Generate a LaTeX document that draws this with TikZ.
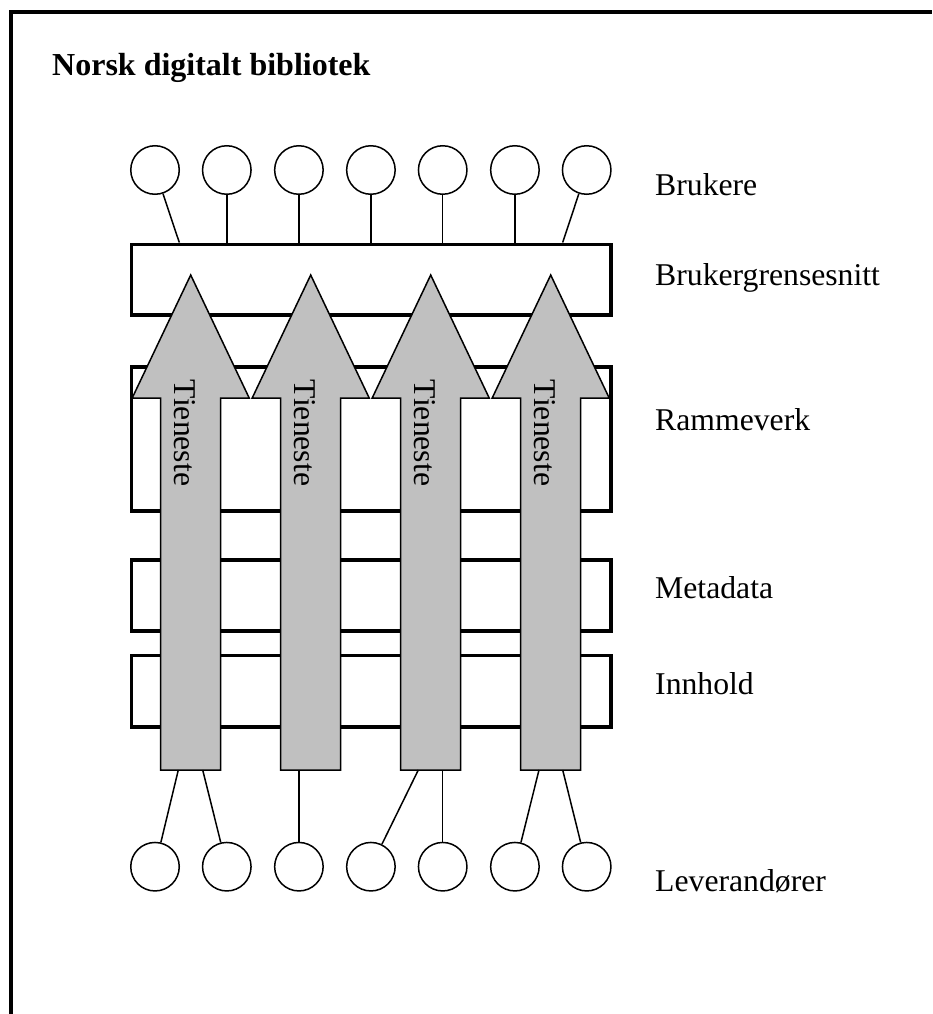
\documentclass[tikz,border=0pt]{standalone}
\usepackage{fontspec}
\setmainfont{Liberation Serif}
\definecolor{arrowgray}{HTML}{C0C0C0}
\begin{document}
\begin{tikzpicture}[x=1pt,y=-1pt,
  person/.style={circle,draw,line width=1.5pt,fill=white,minimum size=48.5pt,inner sep=0pt},
  layerbox/.style={rectangle,draw,line width=3.8pt,fill=white,minimum width=479.2pt,inner sep=0pt},
  svcarrow/.style={draw,line width=1.5pt,fill=arrowgray,line join=miter},
  link/.style={line width=1.5pt},
  lbl/.style={anchor=base west,inner sep=0pt,font=\fontsize{31.7}{38}\selectfont},
  svclbl/.style={rotate=-90,inner sep=0pt,font=\fontsize{31.7}{38}\selectfont},
  frame/.style={line width=4pt}]
\useasboundingbox (0,0) rectangle (932,1014);
% frame
\coordinate (f1) at (11,1014);
\coordinate (f2) at (11,12);
\coordinate (f3) at (932,12);
\draw[frame] (f1) -- (f2) -- (f3);
% title
\node[anchor=base west,inner sep=0pt,font=\fontsize{32}{38}\selectfont\bfseries] (title) at (52,76) {Norsk digitalt bibliotek};
% layer boxes
\node[layerbox,minimum height=70.5pt] (bg) at (371,279.7) {};
\node[layerbox,minimum height=144pt] (rv) at (371,439) {};
\node[layerbox,minimum height=71.3pt] (md) at (371,595.3) {};
\node[layerbox,minimum height=71.2pt] (ih) at (371,691.1) {};
% service arrows
\foreach \k in {0,1,2,3}{
  \pgfmathsetmacro{\cx}{190.7+120*\k}
  \draw[svcarrow] (\cx,275) -- (\cx+58.5,398) -- (\cx+30,398) -- (\cx+30,770)
     -- (\cx-30,770) -- (\cx-30,398) -- (\cx-58.5,398) -- cycle;
  \node[svclbl] (t\k) at (\cx-5.5,433) {Tieneste};
}
% users
\foreach \i/\x in {1/155,2/226.8,3/298.9,4/370.9,5/442.7,6/514.9,7/586.7}{
  \node[person] (u\i) at (\x,170) {};
  \node[person] (l\i) at (\x,866.7) {};
}
% connection points on box top
\coordinate (c1) at (179.3,242.5);
\coordinate (c2) at (226.8,242.5);
\coordinate (c3) at (298.9,242.5);
\coordinate (c4) at (370.9,242.5);
\coordinate (c5) at (442.7,242.5);
\coordinate (c6) at (514.9,242.5);
\coordinate (c7) at (562.7,242.5);
\foreach \i in {1,...,7}{ \draw[link] (u\i) -- (c\i); }
% connection points on shaft bottoms
\coordinate (s1) at (178.3,770);
\coordinate (s2) at (202.7,770);
\coordinate (s3) at (298.9,770);
\coordinate (s4) at (418.3,770);
\coordinate (s5) at (442.7,770);
\coordinate (s6) at (539,770);
\coordinate (s7) at (562.7,770);
\foreach \i in {1,...,7}{ \draw[link] (s\i) -- (l\i); }
% labels
\node[lbl] (lb1) at (655,195) {Brukere};
\node[lbl] (lb2) at (655,285) {Brukergrensesnitt};
\node[lbl] (lb3) at (655,430) {Rammeverk};
\node[lbl] (lb4) at (655,598) {Metadata};
\node[lbl] (lb5) at (655,694) {Innhold};
\node[lbl] (lb6) at (655,891.7) {Leverandører};
\end{tikzpicture}
\end{document}
